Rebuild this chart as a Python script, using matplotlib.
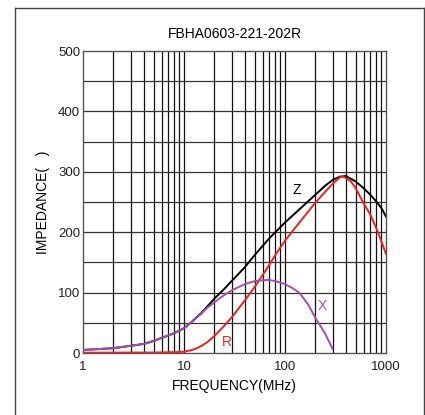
import matplotlib
matplotlib.use("Agg")
import matplotlib.pyplot as plt
from matplotlib.lines import Line2D
from matplotlib.ticker import NullLocator

plt.rcParams['font.family'] = ['Liberation Sans', 'DejaVu Sans']

title = "FBHA0603-221-202R"

freq_z = [1, 2, 3, 4, 5, 6, 7, 8, 9, 10, 12, 15, 17, 20, 25, 30, 40, 50, 70, 100, 150,
          200, 250, 300, 350, 400, 500, 600, 700, 800, 900, 1000]
z_vals = [5, 8, 12, 15, 20, 25, 29, 33, 37, 41, 52, 67, 77, 90, 106, 120, 142, 162, 190, 216, 243,
          262, 277, 287, 292, 293, 284, 273, 262, 251, 240, 226]

freq_x = [1, 2, 3, 4, 5, 6, 7, 8, 9, 10, 12, 15, 17, 20, 25, 30, 40, 50, 60, 70, 80, 100,
          120, 140, 170, 200, 250, 295]
x_vals = [5, 8, 12, 15, 20, 25, 29, 33, 37, 41, 52, 66, 75, 84, 96, 104, 114, 119, 120.5, 121, 119, 114,
          107, 99, 80, 58, 32, 7]

freq_r = [1, 5, 9, 10, 12, 13, 15, 17, 20, 25, 30, 40, 50, 60, 70, 80, 100, 150, 200, 250,
          300, 350, 380, 450, 500, 600, 700, 800, 900, 1000]
r_vals = [0.5, 0.8, 1.5, 2, 5, 7, 12, 18, 28, 45, 60, 87, 109, 129, 146, 162, 186, 223, 249, 267,
          281, 291, 292, 284, 273, 248, 229, 207, 185, 164]

y_ticks = [0, 100, 200, 300, 400, 500]
x_ticks = [1, 10, 100, 1000]
x_tick_labels = ["1", "10", "100", "1000"]

fig = plt.figure(figsize=(4.25, 4.15), dpi=100)
ax = fig.add_axes([83/425, 1-353/415, 303/425, 302/415])

# outer frame
fc = '#444444'
fig.add_artist(Line2D([15/425, 15/425], [0, 1-8/415], transform=fig.transFigure, color=fc, lw=1))
fig.add_artist(Line2D([15/425, 424/425], [1-8/415, 1-8/415], transform=fig.transFigure, color=fc, lw=1))
fig.add_artist(Line2D([424/425, 424/425], [0, 1-8/415], transform=fig.transFigure, color=fc, lw=1))

ax.set_xscale('log')
ax.set_xlim(1, 1000)
ax.set_ylim(0, 500)

# grid
for dec in [1, 10, 100]:
    for k in range(2, 10):
        ax.axvline(dec*k, color='#111111', lw=0.9, zorder=1)
for v in [10, 100]:
    ax.axvline(v, color='#111111', lw=0.9, zorder=1)
for yv in range(50, 500, 50):
    ax.axhline(yv, color='#333333', lw=0.9, zorder=1)

ax.plot(freq_z, z_vals, color='black', lw=1.4, zorder=3, solid_joinstyle='round')
ax.plot(freq_r, r_vals, color='#ee2020', lw=1.4, zorder=4, solid_joinstyle='round')
ax.plot(freq_x, x_vals, color='#a050a8', lw=1.4, zorder=5, solid_joinstyle='round')

ax.text(132, 270, "Z", color='black', fontsize=10, ha='center', va='center')
ax.text(26.6, 19, "R", color='#ee2020', fontsize=10, ha='center', va='center')
ax.text(233, 78, "X", color='#a050a8', fontsize=10, ha='center', va='center')

ax.set_xticks(x_ticks)
ax.set_xticklabels(x_tick_labels)
ax.xaxis.set_minor_locator(NullLocator())
ax.set_yticks(y_ticks)
ax.tick_params(axis='both', length=0, labelsize=9.5, colors='#222222', pad=2)
ax.tick_params(axis='x', pad=6)

for s in ax.spines.values():
    s.set_color('#555555')
    s.set_linewidth(1.0)

ax.set_title(title, fontsize=10, pad=9)
ax.set_xlabel("FREQUENCY(MHz)", fontsize=10, labelpad=4)
ax.set_ylabel("IMPEDANCE(   )", fontsize=10, labelpad=6)

fig.savefig("out.png", dpi=100, facecolor='white')
